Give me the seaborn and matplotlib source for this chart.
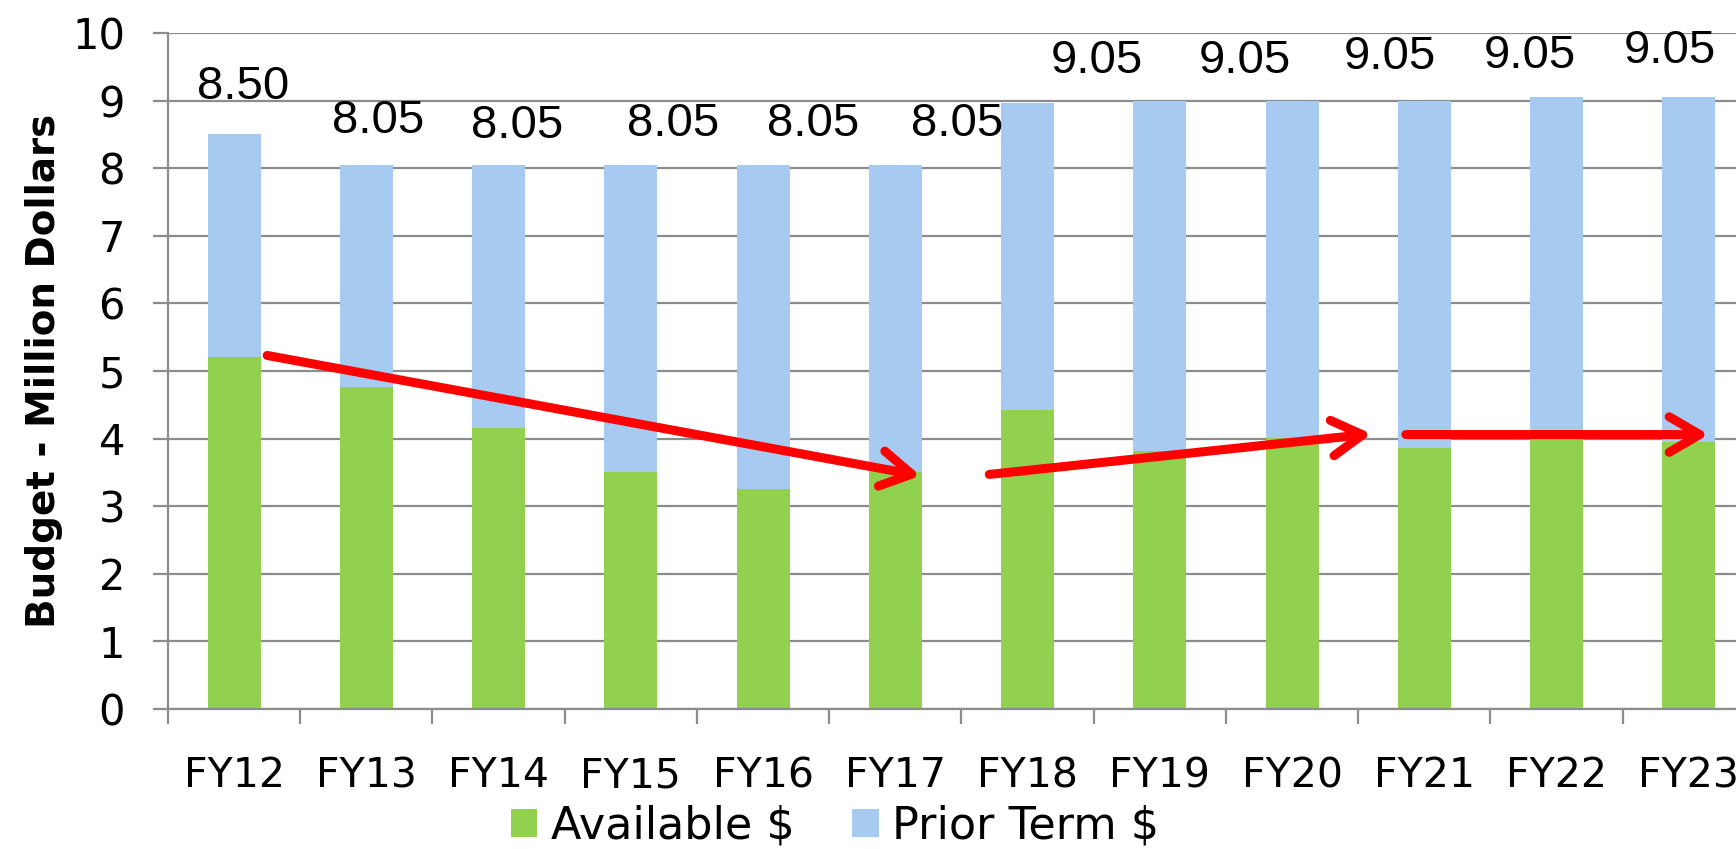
import numpy as np
import matplotlib
matplotlib.use('Agg')
import matplotlib.pyplot as plt
from matplotlib.patches import Patch
import seaborn as sns

# values (million dollars)
years = ['FY12', 'FY13', 'FY14', 'FY15', 'FY16', 'FY17',
         'FY18', 'FY19', 'FY20', 'FY21', 'FY22', 'FY23']
available = [5.20, 4.76, 4.16, 3.50, 3.26, 3.50, 4.43, 3.82, 4.01, 3.86, 4.00, 3.95]
total = [8.50, 8.05, 8.05, 8.05, 8.05, 8.05, 8.96, 8.99, 8.99, 8.99, 9.05, 9.05]
prior_term = list(np.round(np.array(total) - np.array(available), 2))

# the value labels (11 of them, slightly shifted in the original)
label_values = [8.50, 8.05, 8.05, 8.05, 8.05, 8.05, 9.05, 9.05, 9.05, 9.05, 9.05]
label_x = [0.07, 1.09, 2.14, 3.32, 4.38, 5.47, 6.52, 7.64, 8.74, 9.80, 10.86]
label_y = [9.20, 8.70, 8.62, 8.65, 8.65, 8.65, 9.59, 9.59, 9.64, 9.66, 9.73]

# trend arrows (start, end) in data coordinates
arrows = [((0.25, 5.23), (5.19, 3.45)),
          ((5.71, 3.47), (8.60, 4.07)),
          ((8.86, 4.06), (11.15, 4.06))]

GREEN = '#92D050'
BLUE = '#A6CAF0'
GRID = '#8C8C8C'

sns.set_style('white')
plt.rcParams['font.family'] = ['DejaVu Sans']
plt.rcParams['text.color'] = 'black'
plt.rcParams['axes.labelcolor'] = 'black'
plt.rcParams['xtick.labelcolor'] = 'black'
plt.rcParams['ytick.labelcolor'] = 'black'

fig = plt.figure(figsize=(17.36, 8.49), dpi=100)
ax = fig.add_axes([168 / 1736, 140 / 849, 1587 / 1736, 676 / 849])

# stacked look: full height in blue, available part in green on top
sns.barplot(x=years, y=[a + p for a, p in zip(available, prior_term)], color=BLUE,
            width=0.4, saturation=1, linewidth=0, ax=ax)
sns.barplot(x=years, y=available, color=GREEN, width=0.4, saturation=1,
            linewidth=0, ax=ax)

ax.set_xlim(-0.5, 11.5)
ax.set_ylim(0, 10)
ax.set_yticks(range(0, 11))
ax.yaxis.grid(True, color=GRID, linewidth=1.6)
ax.set_axisbelow(True)
for side in ['top', 'right']:
    ax.spines[side].set_visible(False)
for side in ['left', 'bottom']:
    ax.spines[side].set_color(GRID)
    ax.spines[side].set_linewidth(1.6)

ax.tick_params(axis='y', labelsize=30, length=11, width=1.6, color=GRID, pad=20,
               direction='out', left=True, labelcolor='black')
ax.set_xticks(np.arange(12))
ax.set_xticklabels(years)
ax.set_xticks(np.arange(-0.5, 12, 1), minor=True)
ax.tick_params(axis='x', which='major', length=0, labelsize=29.5, pad=34,
               labelcolor='black')
ax.tick_params(axis='x', which='minor', length=11, width=1.6, color=GRID,
               direction='out', bottom=True)
ax.set_xlabel('')
ax.set_ylabel('Budget - Million Dollars', fontsize=28, fontweight='bold', color='black')
ax.yaxis.set_label_coords(-0.066, 0.5)

for v, x, y in zip(label_values, label_x, label_y):
    ax.text(x, y, f'{v:.2f}', ha='center', va='center', fontsize=34, color='black',
            family=['Liberation Sans', 'DejaVu Sans'], clip_on=False)

for start, end in arrows:
    ax.annotate('', xy=end, xytext=start, annotation_clip=False,
                arrowprops=dict(arrowstyle='->,head_length=0.55,head_width=0.32',
                                color='#FF0000', lw=6.5, mutation_scale=40,
                                shrinkA=0, shrinkB=0, capstyle='round'))

handles = [Patch(facecolor=GREEN, edgecolor='none'), Patch(facecolor=BLUE, edgecolor='none')]
fig.legend(handles, ['Available $', 'Prior Term $'], loc='center',
           bbox_to_anchor=(0.481, 23 / 849), ncol=2, frameon=False, fontsize=32,
           handlelength=0.6, handleheight=0.6, handletextpad=0.3,
           columnspacing=1.3, borderaxespad=0, borderpad=0)

fig.savefig('out.png', dpi=100)
